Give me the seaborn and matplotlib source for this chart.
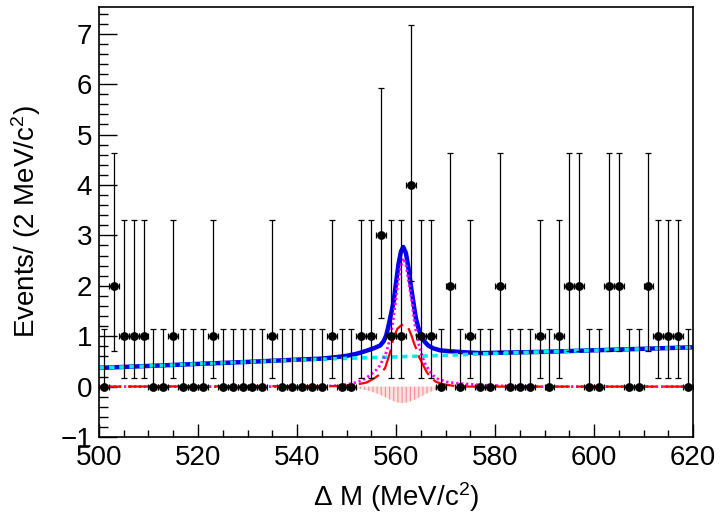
import numpy as np
import pandas as pd
import matplotlib
matplotlib.use("Agg")
import matplotlib.pyplot as plt
from matplotlib.ticker import MultipleLocator
import seaborn as sns

# binned data, 2 MeV bins from 500 to 620
bin_centers = list(range(501, 620, 2))
counts = [0, 2, 1, 1, 1, 0, 0, 1, 0, 0,
          0, 1, 0, 0, 0, 0, 0, 1, 0, 0,
          0, 0, 0, 1, 0, 0, 1, 1, 3, 1,
          1, 4, 1, 1, 0, 2, 0, 1, 0, 0,
          2, 0, 0, 0, 1, 0, 1, 2, 2, 0,
          0, 2, 2, 0, 0, 2, 1, 1, 1, 0]
# poisson (68.3%) errors, indexed by count
poisson_lo = [0.0, 0.827, 1.291, 1.633, 1.914]
poisson_hi = [1.148, 2.299, 2.638, 2.918, 3.163]

# total fit (blue)
total_x = [500, 510, 520, 530, 540, 545, 548, 550, 552, 554, 555.5, 556.8, 557.5, 558.0,
           558.4, 558.8, 559.5, 560.0, 560.5, 561.0, 561.45, 562.0, 562.5, 563.0, 563.5,
           564.0, 564.5, 565.05, 565.7, 566.5, 567.5, 568.9, 571, 574, 577, 580, 590,
           600, 610, 620]
total_y = [0.37, 0.41, 0.45, 0.49, 0.535, 0.555, 0.585, 0.61, 0.65, 0.71, 0.76, 0.815, 0.9,
           1.01, 1.17, 1.35, 1.68, 2.05, 2.43, 2.68, 2.77, 2.65, 2.36, 2.0, 1.68, 1.36, 1.17,
           1.01, 0.9, 0.815, 0.76, 0.72, 0.70, 0.68, 0.665, 0.67, 0.69, 0.72, 0.75, 0.78]

# combinatorial background (cyan)
bkg_x = [500, 510, 520, 530, 540, 550, 560, 570, 580, 590, 600, 610, 620]
bkg_y = [0.37, 0.41, 0.45, 0.49, 0.53, 0.56, 0.59, 0.62, 0.66, 0.69, 0.72, 0.75, 0.78]

# signal shape (magenta dotted)
sig_x = [500, 545, 548, 550, 551, 552, 553, 554, 555, 556, 556.5, 557, 557.8, 558.4, 558.9,
         559.4, 559.9, 560.4, 561, 561.45, 562, 562.6, 563.2, 563.7, 564.2, 564.7, 565.2,
         565.8, 566.5, 567.5, 568.5, 570.6, 573, 576, 580, 585, 620]
sig_y = [0, 0, 0.02, 0.04, 0.06, 0.085, 0.12, 0.17, 0.25, 0.33, 0.38, 0.47, 0.62, 0.8, 1.01,
         1.3, 1.68, 2.05, 2.4, 2.55, 2.42, 2.05, 1.68, 1.3, 1.01, 0.8, 0.62, 0.47, 0.35, 0.22,
         0.15, 0.085, 0.06, 0.04, 0.02, 0, 0]

# second component (red dashed)
red_x = [500, 548, 550, 552, 554, 555, 556, 557, 557.8, 558.4, 558.8, 559.5, 560.3, 561,
         561.5, 562, 562.5, 563.1, 563.6, 564.2, 564.7, 565.5, 566.2, 567, 568, 569, 570,
         572, 575, 620]
red_y = [0, 0.01, 0.02, 0.04, 0.08, 0.13, 0.19, 0.27, 0.37, 0.55, 0.68, 0.98, 1.15, 1.21,
         1.23, 1.21, 1.16, 1.02, 0.87, 0.72, 0.58, 0.42, 0.29, 0.18, 0.1, 0.06, 0.04, 0.01,
         0, 0]

# peaking background (hatched, negative)
peak_x = [548, 550, 552, 554, 556, 557, 558, 559, 560, 561, 562, 563, 564, 565, 566, 567,
          568, 569, 570, 572]
peak_y = [0, -0.01, -0.03, -0.07, -0.13, -0.17, -0.22, -0.27, -0.31, -0.33, -0.32, -0.29,
          -0.25, -0.2, -0.15, -0.1, -0.06, -0.035, -0.015, 0]

sns.set_theme(style="ticks")
plt.rcParams["font.family"] = ["Liberation Sans", "DejaVu Sans"]
plt.rcParams["mathtext.default"] = "regular"
plt.rcParams["hatch.linewidth"] = 0.8
for key in ["text.color", "axes.labelcolor", "xtick.color", "ytick.color"]:
    plt.rcParams[key] = "black"

fig = plt.figure(figsize=(7.21, 5.13), dpi=100)
ax = fig.add_axes([0.1373, 0.1481, 0.8239, 0.8383])

ax.fill_between(peak_x, peak_y, 0, facecolor="#fde0e0", edgecolor="#f29090",
                hatch="||||", linewidth=0)

sns.lineplot(x=total_x, y=total_y, ax=ax, color="#0000ee", lw=3.2, estimator=None)
sns.lineplot(x=bkg_x, y=bkg_y, ax=ax, color="#00eeee", lw=2.6, estimator=None,
             linestyle=(0, (1.5, 1.3)))
sns.lineplot(x=sig_x, y=sig_y, ax=ax, color="#ff00ff", lw=2.0, estimator=None,
             linestyle=(0, (0.8, 1.0)))
sns.lineplot(x=red_x, y=red_y, ax=ax, color="#ff0000", lw=1.6, estimator=None,
             linestyle=(0, (10, 3)))

df = pd.DataFrame({"x": bin_centers, "n": counts})
df["lo"] = [poisson_lo[n] for n in counts]
df["hi"] = [poisson_hi[n] for n in counts]
ax.errorbar(df["x"], df["n"], yerr=[df["lo"], df["hi"]], xerr=1.0, fmt="none",
            ecolor="black", elinewidth=0.9, capsize=2.2, capthick=0.9, zorder=5)
sns.scatterplot(data=df, x="x", y="n", ax=ax, color="black", s=40, edgecolor="black",
                linewidth=0, zorder=6)

ax.set_xlim(500, 620)
ax.set_ylim(-1, 7.53)
ax.xaxis.set_major_locator(MultipleLocator(20))
ax.xaxis.set_minor_locator(MultipleLocator(5))
ax.yaxis.set_major_locator(MultipleLocator(1))
ax.yaxis.set_minor_locator(MultipleLocator(0.2))
ax.tick_params(axis="both", which="both", direction="in", top=False, right=False,
               labelsize=20, width=1.0, color="black", labelcolor="black")
ax.tick_params(axis="y", which="major", length=13, pad=5)
ax.tick_params(axis="y", which="minor", length=6.5)
ax.tick_params(axis="x", which="major", length=9.5, pad=6)
ax.tick_params(axis="x", which="minor", length=5)
for sp in ax.spines.values():
    sp.set_color("black")
    sp.set_linewidth(1.2)

ax.set_xlabel(r"$\Delta$ M (MeV/c$^{2}$)", fontsize=20, color="black")
ax.set_ylabel("Events/ (2 MeV/c$^{2}$)", fontsize=20, color="black")
ax.xaxis.set_label_coords(0.5, -0.1)
ax.yaxis.set_label_coords(-0.095, 0.5)

fig.savefig("out.png", dpi=100)
